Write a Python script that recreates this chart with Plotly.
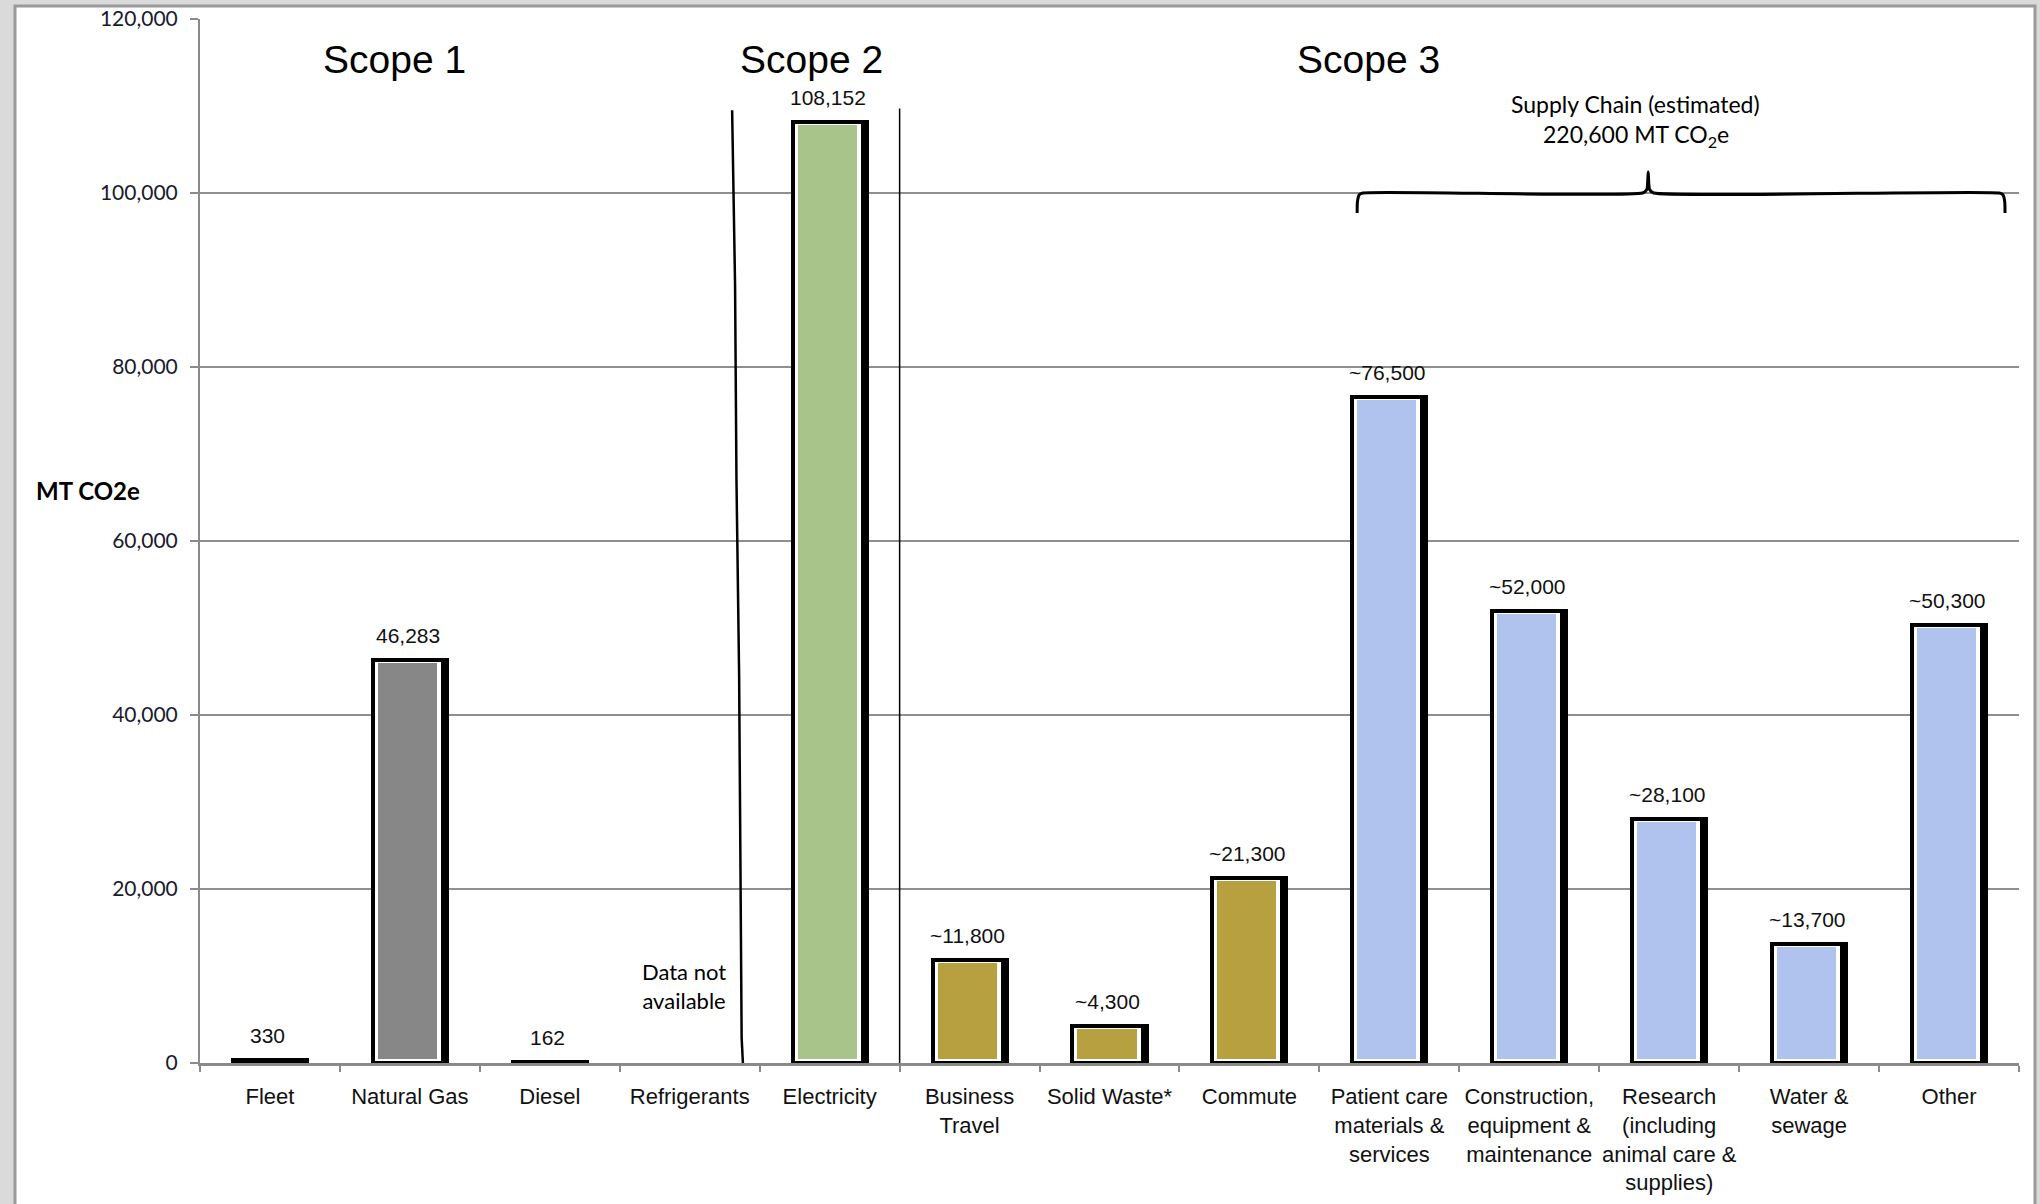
import plotly.graph_objects as go

# ---------------- data ----------------
categories = ["Fleet", "Natural Gas", "Diesel", "Refrigerants", "Electricity",
              "Business<br>Travel", "Solid Waste*", "Commute",
              "Patient care<br>materials &<br>services",
              "Construction,<br>equipment &<br>maintenance",
              "Research<br>(including<br>animal care &<br>supplies)",
              "Water &<br>sewage", "Other"]
values = [330, 46283, 162, None, 108152, 11800, 4300, 21300,
          76500, 52000, 28100, 13700, 50300]
value_labels = ["330", "46,283", "162", "", "108,152", "~11,800", "~4,300",
                "~21,300", "~76,500", "~52,000", "~28,100", "~13,700", "~50,300"]
fill_colors = ["#ffffff", "#878787", "#ffffff", "#ffffff", "#a8c48a",
               "#b6a03f", "#b6a03f", "#b6a03f",
               "#afc3ee", "#afc3ee", "#afc3ee", "#afc3ee", "#afc3ee"]
y_ticks = [0, 20000, 40000, 60000, 80000, 100000, 120000]
y_tick_text = ["0", "20,000", "40,000", "60,000", "80,000", "100,000", "120,000"]

scope_titles = ["Scope 1", "Scope 2", "Scope 3"]
scope_x = [0.89, 3.87, 7.85]
scope_y = 115400

supply_text = ["Supply Chain (estimated)", "220,600 MT CO<sub>2</sub>e"]

# ---------------- styling constants ----------------
CAT_PX = 139.9  # pixel width of one category
def u(px):
    return px / CAT_PX

FONT_ARIAL = "Liberation Sans, Arial, sans-serif"
FONT_CAL = "Lato, Carlito, Calibri, sans-serif"

fig = go.Figure()

# shadow / right thick border
fig.add_trace(go.Bar(
    x=categories, y=values, offset=u(-35), width=u(72),
    marker=dict(color="#000000", line=dict(color="#000000", width=4)),
    hoverinfo="skip", showlegend=False))
# colored fill with white inner gap
fig.add_trace(go.Bar(
    x=categories, y=values, offset=u(-35), width=u(66),
    marker=dict(color=fill_colors, line=dict(color="#ffffff", width=7)),
    hoverinfo="skip", showlegend=False))
# black outline
fig.add_trace(go.Bar(
    x=categories, y=values, offset=u(-37), width=u(70),
    marker=dict(color="rgba(0,0,0,0)", line=dict(color="#000000", width=4)),
    hoverinfo="skip", showlegend=False))

# wavy separator between Scope 1 and Scope 2
sep1_x = [3.303, 3.324, 3.334, 3.353, 3.362, 3.371, 3.38]
sep1_y = [109500, 89400, 67000, 44600, 23800, 2900, 0]
fig.add_trace(go.Scatter(x=sep1_x, y=sep1_y, xaxis="x2", mode="lines",
                         line=dict(color="#000000", width=2.5),
                         hoverinfo="skip", showlegend=False))
# straight separator between Scope 2 and Scope 3
fig.add_trace(go.Scatter(x=[4.5, 4.5], y=[0, 109700], xaxis="x2", mode="lines",
                         line=dict(color="#000000", width=1.5),
                         hoverinfo="skip", showlegend=False))
# curly brace for supply chain
brace_x = [7.77, 7.772, 7.785, 7.81, 9.81, 9.84, 9.85, 9.86, 9.89, 12.36, 12.385, 12.398, 12.40]
brace_y = [97700, 99000, 99800, 100000, 100000, 100400, 102400, 100400, 100000, 100000, 99800, 99000, 97700]
fig.add_trace(go.Scatter(x=brace_x, y=brace_y, xaxis="x2", mode="lines",
                         line=dict(color="#000000", width=3, shape="spline", smoothing=0.6),
                         hoverinfo="skip", showlegend=False))

annotations = []
# value labels
for i, (v, t) in enumerate(zip(values, value_labels)):
    if v is None or not t:
        continue
    annotations.append(dict(x=i - u(2), y=v, xref="x2", yref="y", text=t,
                            showarrow=False, xanchor="center", yanchor="bottom", yshift=11,
                            font=dict(family=FONT_ARIAL, size=21, color="#111111")))
# scope titles
for t, sx in zip(scope_titles, scope_x):
    annotations.append(dict(x=sx, y=scope_y, xref="x2", yref="y", text=t,
                            showarrow=False, xanchor="center", yanchor="middle",
                            font=dict(family=FONT_ARIAL, size=39, color="#000000")))
# supply chain label
annotations.append(dict(x=9.76, y=110200, xref="x2", yref="y", text=supply_text[0],
                        showarrow=False, xanchor="center", yanchor="middle",
                        font=dict(family=FONT_CAL, size=23, color="#000000")))
annotations.append(dict(x=9.76, y=106600, xref="x2", yref="y", text=supply_text[1],
                        showarrow=False, xanchor="center", yanchor="middle",
                        font=dict(family=FONT_CAL, size=23, color="#000000")))
# data not available
annotations.append(dict(x=2.96, y=8800, xref="x2", yref="y", text="Data not<br>available",
                        showarrow=False, xanchor="center", yanchor="middle",
                        font=dict(family=FONT_CAL, size=22, color="#000000")))
# y axis title
annotations.append(dict(x=-0.0616, y=65800, xref="paper", yref="y", text="<b>MT CO2e</b>",
                        showarrow=False, xanchor="center", yanchor="middle",
                        font=dict(family=FONT_CAL, size=24, color="#000000")))

shapes = [
    # outer frame
    dict(type="rect", xref="paper", yref="paper", x0=-0.1017, x1=1.0088, y0=-0.2, y1=1.0124,
         line=dict(color="#9a9a9a", width=3), fillcolor="#ffffff", layer="below"),
]

fig.update_layout(
    width=2040, height=1204,
    margin=dict(l=200, r=21, t=19, b=141, autoexpand=False),
    paper_bgcolor="#dadada", plot_bgcolor="rgba(0,0,0,0)",
    barmode="overlay", bargap=0,
    showlegend=False,
    annotations=annotations, shapes=shapes,
    xaxis=dict(type="category", range=[-0.5, 12.5], showgrid=False,
               showline=True, linecolor="#8a8a8a", linewidth=3,
               ticks="outside", tickson="boundaries", ticklen=6, tickcolor="#8a8a8a", tickwidth=2,
               ticklabelstandoff=12, tickangle=0, automargin=False,
               tickfont=dict(family=FONT_ARIAL, size=22, color="#111111"),
               fixedrange=True),
    xaxis2=dict(type="linear", range=[-0.5, 12.5], overlaying="x", visible=False,
                fixedrange=True),
    yaxis=dict(range=[0, 120000], tickvals=y_ticks, ticktext=y_tick_text,
               showgrid=True, gridcolor="#8f8f8f", gridwidth=2,
               showline=True, linecolor="#8a8a8a", linewidth=2,
               ticks="outside", ticklen=8, tickcolor="#8a8a8a", tickwidth=2,
               ticklabelstandoff=8, automargin=False,
               tickfont=dict(family=FONT_CAL, size=21, color="#1a1a2e"),
               zeroline=False, fixedrange=True),
)

fig.write_html("out.html")
